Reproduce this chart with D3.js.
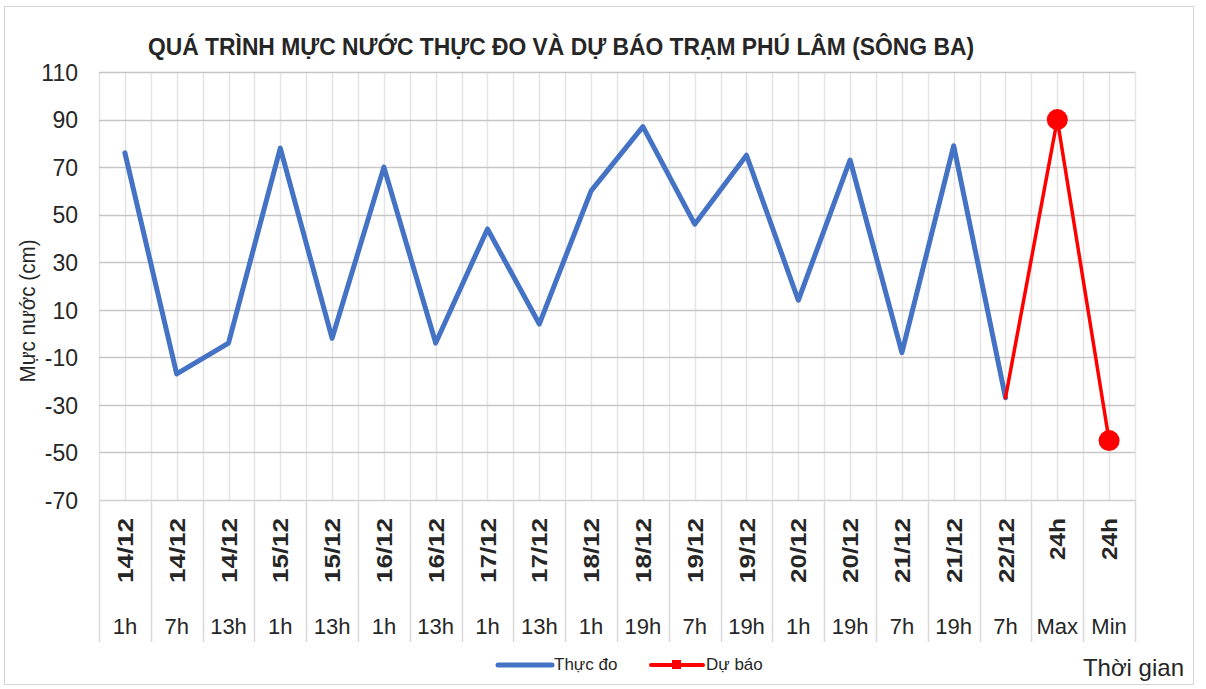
<!DOCTYPE html>
<html>
<head>
<meta charset="utf-8">
<script src="https://cdn.jsdelivr.net/npm/d3@7"></script>
<style>
  body { margin: 0; background: #fff; }
  text { font-family: "Liberation Sans", Arial, sans-serif; fill: #262626; }
</style>
</head>
<body>
<div id="chart"></div>
<script>
// Category labels (two levels) and series values
var dates = ["14/12","14/12","14/12","15/12","15/12","16/12","16/12","17/12","17/12","18/12",
             "18/12","19/12","19/12","20/12","20/12","21/12","21/12","22/12","24h","24h"];
var hours = ["1h","7h","13h","1h","13h","1h","13h","1h","13h","1h",
             "19h","7h","19h","1h","19h","7h","19h","7h","Max","Min"];
var thucDo = [76, -17, -4, 78, -2, 70, -4, 44, 4, 60, 87, 46, 75, 14, 73, -8, 79, -27, null, null];
var duBao = [null, null, null, null, null, null, null, null, null, null,
             null, null, null, null, null, null, null, -27, 90, -45];
var yTicks = [-70, -50, -30, -10, 10, 30, 50, 70, 90, 110];

var W = 1206, H = 689;
var plot = {left: 99, right: 1135, top: 72, bottom: 500};

var svg = d3.select("#chart").append("svg")
    .attr("width", W)
    .attr("height", H);

// chart border
svg.append("rect")
    .attr("x", 4.5).attr("y", 6.5)
    .attr("width", 1189).attr("height", 678)
    .attr("fill", "#fff")
    .attr("stroke", "#d4d4d4");

var x = d3.scaleBand()
    .domain(d3.range(dates.length))
    .range([plot.left, plot.right])
    .padding(0);
var bw = x.bandwidth();
var cx = function(i) { return x(i) + bw / 2; };

var y = d3.scaleLinear()
    .domain([-70, 110])
    .range([plot.bottom, plot.top]);

// vertical grid: boundaries and centers
var vLines = [];
dates.forEach(function(d, i) { vLines.push(x(i)); vLines.push(cx(i)); });
vLines.push(plot.right);
svg.append("g").selectAll("line")
    .data(vLines).enter().append("line")
    .attr("x1", d => Math.round(d) + 0.5).attr("x2", d => Math.round(d) + 0.5)
    .attr("y1", plot.top).attr("y2", plot.bottom)
    .attr("stroke", "#e4e4e4").attr("stroke-width", 1.5);

// horizontal grid
svg.append("g").selectAll("line")
    .data(yTicks).enter().append("line")
    .attr("x1", plot.left).attr("x2", plot.right)
    .attr("y1", d => Math.round(y(d)) + 0.5).attr("y2", d => Math.round(y(d)) + 0.5)
    .attr("stroke", d => d === -70 ? "#d0d0d0" : "#c6c6c6").attr("stroke-width", 1.5);

// Y axis labels
var yAxis = svg.append("g")
    .attr("transform", `translate(${plot.left}, 0)`)
    .call(d3.axisLeft(y).tickValues(yTicks).tickSize(0).tickPadding(21)
        .tickFormat(d => String(d)));
yAxis.select(".domain").remove();
yAxis.selectAll("text")
    .attr("font-size", "23px")
    .attr("font-family", "Liberation Sans, Arial, sans-serif")
    .attr("fill", "#404040")
    .attr("dy", "0.36em");

// category separators in label area
var sep = dates.map((d, i) => x(i)).concat([plot.right]);
svg.append("g").selectAll("line")
    .data(sep).enter().append("line")
    .attr("x1", d => Math.round(d) + 0.5).attr("x2", d => Math.round(d) + 0.5)
    .attr("y1", plot.bottom).attr("y2", 642)
    .attr("stroke", "#d9d9d9").attr("stroke-width", 1.5);

// rotated date labels, top aligned
svg.append("g").selectAll("text")
    .data(dates).enter().append("text")
    .attr("transform", (d, i) => `translate(${cx(i) + 8}, 518) rotate(-90)`)
    .attr("text-anchor", "end")
    .attr("font-weight", "bold")
    .attr("font-size", "22px")
    .attr("fill", "#262626")
    .attr("textLength", d => d.length === 5 ? 65 : 42)
    .attr("lengthAdjust", "spacingAndGlyphs")
    .text(d => d);

// hour labels
svg.append("g").selectAll("text")
    .data(hours).enter().append("text")
    .attr("x", (d, i) => cx(i))
    .attr("y", 634)
    .attr("text-anchor", "middle")
    .attr("font-size", "22px")
    .attr("fill", "#404040")
    .text(d => d);

// lines
var line = d3.line()
    .defined(d => d != null)
    .x((d, i) => cx(i))
    .y(d => y(d));

svg.append("path")
    .datum(thucDo)
    .attr("d", line)
    .attr("fill", "none")
    .attr("stroke", "#4472C4")
    .attr("stroke-width", 5)
    .attr("stroke-linejoin", "round")
    .attr("stroke-linecap", "round");

svg.append("path")
    .datum(duBao)
    .attr("d", line)
    .attr("fill", "none")
    .attr("stroke", "#FF0000")
    .attr("stroke-width", 3.5)
    .attr("stroke-linejoin", "round")
    .attr("stroke-linecap", "round");

// forecast markers (Max, Min only)
svg.append("g").selectAll("circle")
    .data(duBao.map((v, i) => ({v: v, i: i})).filter(d => d.v != null && dates[d.i] === "24h"))
    .enter().append("circle")
    .attr("cx", d => cx(d.i))
    .attr("cy", d => y(d.v))
    .attr("r", 10.5)
    .attr("fill", "#FF0000");

// title
svg.append("text")
    .attr("x", 561)
    .attr("y", 55)
    .attr("text-anchor", "middle")
    .attr("font-weight", "bold")
    .attr("font-size", "23px")
    .attr("fill", "#111")
    .attr("textLength", 826)
    .attr("lengthAdjust", "spacingAndGlyphs")
    .text("QUÁ TRÌNH MỰC NƯỚC THỰC ĐO VÀ DỰ BÁO TRẠM PHÚ LÂM (SÔNG BA)");

// y axis title
svg.append("text")
    .attr("transform", "translate(35, 311) rotate(-90)")
    .attr("text-anchor", "middle")
    .attr("font-size", "22px")
    .attr("fill", "#1a1a1a")
    .attr("textLength", 143)
    .attr("lengthAdjust", "spacingAndGlyphs")
    .text("Mực nước (cm)");

// x axis title
svg.append("text")
    .attr("x", 1184)
    .attr("y", 676)
    .attr("text-anchor", "end")
    .attr("font-size", "24px")
    .attr("fill", "#262626")
    .text("Thời gian");

// legend
var legend = svg.append("g");
legend.append("line")
    .attr("x1", 498).attr("x2", 552).attr("y1", 665).attr("y2", 665)
    .attr("stroke", "#4472C4").attr("stroke-width", 5).attr("stroke-linecap", "round");
legend.append("text")
    .attr("x", 554).attr("y", 670)
    .attr("font-size", "17px")
    .text("Thực đo");
legend.append("line")
    .attr("x1", 651).attr("x2", 703).attr("y1", 665).attr("y2", 665)
    .attr("stroke", "#FF0000").attr("stroke-width", 4).attr("stroke-linecap", "round");
legend.append("rect")
    .attr("x", 672).attr("y", 660).attr("width", 9).attr("height", 9)
    .attr("fill", "#FF0000");
legend.append("text")
    .attr("x", 706).attr("y", 670)
    .attr("font-size", "17px")
    .text("Dự báo");
</script>
</body>
</html>
